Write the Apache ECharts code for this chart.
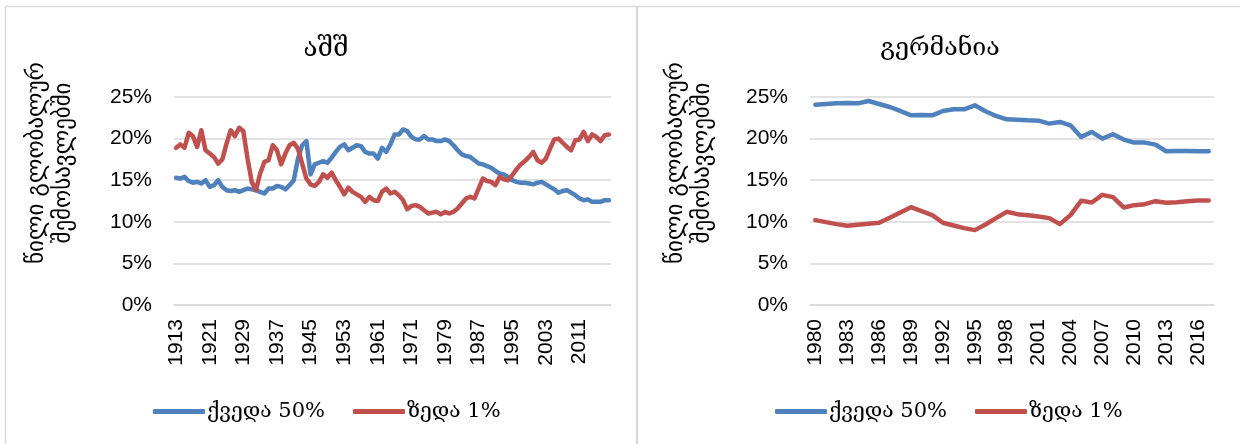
<!DOCTYPE html>
<html>
<head>
<meta charset="utf-8">
<script src="https://cdn.jsdelivr.net/npm/echarts@6/dist/echarts.min.js"></script>
<style>
  html, body { margin: 0; padding: 0; background: #fff; }
  #main { width: 1240px; height: 444px; }
</style>
</head>
<body>
<div id="main"></div>
<script>
// აშშ - წლები (1963 და 1965 მონაცემებში არ არის)
const usYears = [
  '1913','1914','1915','1916','1917','1918','1919','1920','1921','1922',
  '1923','1924','1925','1926','1927','1928','1929','1930','1931','1932',
  '1933','1934','1935','1936','1937','1938','1939','1940','1941','1942',
  '1943','1944','1945','1946','1947','1948','1949','1950','1951','1952',
  '1953','1954','1955','1956','1957','1958','1959','1960','1961','1962',
  '1964','1966','1967','1968','1969','1970','1971','1972','1973','1974',
  '1975','1976','1977','1978','1979','1980','1981','1982','1983','1984',
  '1985','1986','1987','1988','1989','1990','1991','1992','1993','1994',
  '1995','1996','1997','1998','1999','2000','2001','2002','2003','2004',
  '2005','2006','2007','2008','2009','2010','2011','2012','2013','2014',
  '2015','2016','2017','2018'
]
const usBottom50 = [
  15.3, 15.2, 15.4, 14.9, 14.7, 14.8, 14.6, 15.0, 14.2, 14.4,
  15.0, 14.2, 13.8, 13.7, 13.8, 13.6, 13.8, 14.0, 13.9, 13.8,
  13.6, 13.4, 14.0, 14.0, 14.3, 14.2, 13.9, 14.4, 15.0, 17.6,
  19.2, 19.7, 15.7, 16.9, 17.1, 17.3, 17.1, 17.7, 18.4, 19.0,
  19.3, 18.6, 18.9, 19.2, 19.1, 18.4, 18.2, 18.2, 17.6, 18.9,
  18.4, 19.3, 20.5, 20.5, 21.1, 20.9, 20.2, 19.9, 19.9, 20.3,
  19.9, 19.9, 19.7, 19.7, 19.9, 19.7, 19.2, 18.6, 18.1, 17.9,
  17.8, 17.4, 17.0, 16.9, 16.7, 16.5, 16.1, 15.8, 15.7, 15.4,
  15.0, 14.8, 14.7, 14.7, 14.6, 14.5, 14.7, 14.8, 14.5, 14.2,
  13.9, 13.5, 13.7, 13.8, 13.5, 13.2, 12.8, 12.6, 12.7, 12.4,
  12.4, 12.4, 12.6, 12.6
]
const usTop1 = [
  18.9, 19.3, 18.9, 20.7, 20.3, 19.0, 21.0, 18.6, 18.2, 17.8,
  17.0, 17.5, 19.4, 21.0, 20.3, 21.3, 20.9, 17.6, 14.8, 13.8,
  15.8, 17.2, 17.4, 19.2, 18.6, 16.9, 18.2, 19.2, 19.5, 18.8,
  17.0, 15.2, 14.5, 14.3, 14.8, 15.7, 15.3, 15.9, 15.0, 14.2,
  13.3, 14.1, 13.6, 13.3, 13.0, 12.4, 13.0, 12.6, 12.5, 13.6,
  14.0, 13.4, 13.6, 13.2, 12.6, 11.5, 11.9, 12.0, 11.8, 11.4,
  11.0, 11.1, 11.2, 10.9, 11.2, 11.0, 11.2, 11.6, 12.2, 12.8,
  13.0, 12.8, 14.0, 15.2, 14.9, 14.8, 14.4, 15.4, 15.1, 15.0,
  15.6, 16.3, 16.9, 17.3, 17.8, 18.4, 17.4, 17.1, 17.6, 18.8,
  19.9, 20.0, 19.5, 19.0, 18.6, 19.8, 19.9, 20.8, 19.7, 20.5,
  20.2, 19.7, 20.4, 20.5
]

// გერმანია
const deYears = [
  '1980','1981','1982','1983','1984','1985','1986','1987','1988','1989',
  '1990','1991','1992','1993','1994','1995','1996','1997','1998','1999',
  '2000','2001','2002','2003','2004','2005','2006','2007','2008','2009',
  '2010','2011','2012','2013','2014','2015','2016','2017'
]
const deBottom50 = [
  24.08, 24.16, 24.24, 24.28, 24.24, 24.52, 24.16, 23.8, 23.32, 22.8,
  22.84, 22.8, 23.32, 23.52, 23.52, 24.0, 23.28, 22.72, 22.32, 22.28,
  22.2, 22.16, 21.8, 22.0, 21.6, 20.2, 20.8, 20.0, 20.52, 19.88,
  19.52, 19.52, 19.28, 18.48, 18.52, 18.52, 18.48, 18.48
]
const deTop1 = [
  10.2, 9.96, 9.72, 9.52, 9.64, 9.76, 9.88, 10.48, 11.12, 11.76,
  11.28, 10.8, 9.88, 9.56, 9.24, 9.0, 9.68, 10.44, 11.2, 10.92,
  10.8, 10.64, 10.44, 9.72, 10.8, 12.52, 12.32, 13.24, 12.96, 11.72,
  12.0, 12.12, 12.48, 12.28, 12.36, 12.48, 12.56, 12.56
]

const yTicks = [0, 5, 10, 15, 20, 25]
const seriesNames = ['ქვედა 50%', 'ზედა 1%']
const titles = ['აშშ', 'გერმანია']
const yName = 'წილი გლობალურ\nშემოსავლებში'

const BLUE = '#4f81bd'
const RED = '#c0504d'
const GEO = '"DejaVu Serif", "DejaVu Sans", serif'
const NUM = '"Liberation Sans", Arial, sans-serif'

const chart = echarts.init(document.getElementById('main'))

function makeX(idx, cats, step) {
  return {
    type: 'category',
    gridIndex: idx,
    data: cats,
    boundaryGap: true,
    axisTick: { show: false },
    axisLine: { show: true, lineStyle: { color: '#d9d9d9', width: 1.5 } },
    axisLabel: {
      interval: step - 1,
      rotate: 90,
      margin: 14,
      color: '#000',
      fontSize: 21,
      fontFamily: NUM
    }
  }
}

function makeY(idx) {
  return {
    type: 'value',
    gridIndex: idx,
    min: yTicks[0],
    max: yTicks[yTicks.length - 1],
    interval: 5,
    axisLine: { show: false },
    axisTick: { show: false },
    splitLine: { lineStyle: { color: '#d9d9d9', width: 1.5 } },
    axisLabel: {
      formatter: '{value}%',
      margin: 22,
      color: '#000',
      fontSize: 21,
      fontFamily: NUM
    }
  }
}

function makeLine(name, idx, data, color) {
  return {
    name: name,
    type: 'line',
    xAxisIndex: idx,
    yAxisIndex: idx,
    data: data,
    symbol: 'none',
    lineStyle: { color: color, width: 4.5, cap: 'round', join: 'round' },
    itemStyle: { color: color }
  }
}

function makeLegend(left) {
  return {
    data: seriesNames,
    left: left,
    top: 396,
    icon: 'roundRect',
    itemWidth: 52,
    itemHeight: 5,
    itemGap: 28,
    textStyle: { color: '#000', fontSize: 21, fontFamily: GEO, padding: [0, 0, 0, -3] }
  }
}

// ღერძის სათაური, გადაბრუნებული
function makeYName(cx, cy) {
  return {
    type: 'text',
    x: cx,
    y: cy,
    rotation: Math.PI / 2,
    silent: true,
    style: {
      text: yName,
      fill: '#000',
      fontSize: 23,
      lineHeight: 27,
      fontFamily: '"DejaVu Sans", sans-serif',
      align: 'center',
      verticalAlign: 'middle',
      textAlign: 'center',
      textVerticalAlign: 'middle'
    }
  }
}

const option = {
  backgroundColor: '#fff',
  animation: false,
  title: [
    { text: titles[0], left: 321, top: 31, textAlign: 'center',
      textStyle: { color: '#000', fontSize: 26, fontWeight: 'normal', fontFamily: GEO } },
    { text: titles[1], left: 935, top: 31, textAlign: 'center',
      textStyle: { color: '#000', fontSize: 25, fontWeight: 'normal', fontFamily: GEO } }
  ],
  legend: [makeLegend(148), makeLegend(770)],
  grid: [
    { left: 174, top: 97, width: 437, height: 208 },
    { left: 810, top: 97, width: 404, height: 208 }
  ],
  xAxis: [makeX(0, usYears, 8), makeX(1, deYears, 3)],
  yAxis: [makeY(0), makeY(1)],
  series: [
    makeLine(seriesNames[0], 0, usBottom50, BLUE),
    makeLine(seriesNames[1], 0, usTop1, RED),
    makeLine(seriesNames[0], 1, deBottom50, BLUE),
    makeLine(seriesNames[1], 1, deTop1, RED)
  ],
  graphic: [
    { type: 'rect', shape: { x: 5.5, y: 6.5, width: 631, height: 460 },
      style: { fill: 'none', stroke: '#d9d9d9', lineWidth: 1.5 }, silent: true },
    { type: 'rect', shape: { x: 637.5, y: 6.5, width: 620, height: 460 },
      style: { fill: 'none', stroke: '#d9d9d9', lineWidth: 1.5 }, silent: true },
    makeYName(51, 163),
    makeYName(690, 163)
  ]
}

chart.setOption(option)
</script>
</body>
</html>
